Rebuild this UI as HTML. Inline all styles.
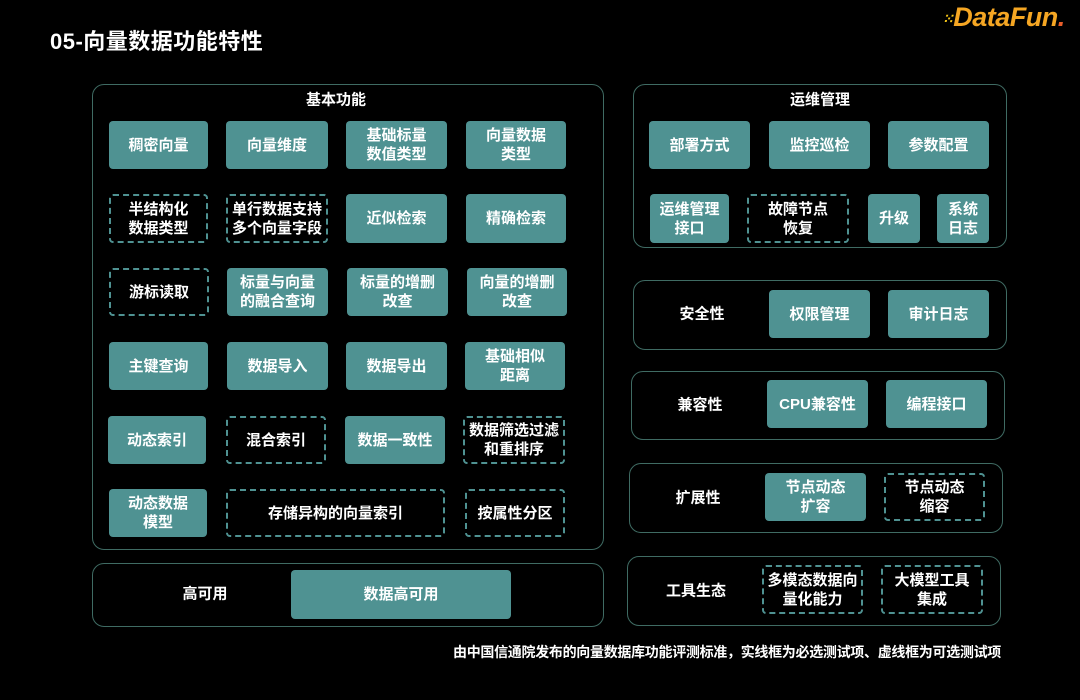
<!DOCTYPE html>
<html><head><meta charset="utf-8"><style>
*{margin:0;padding:0;box-sizing:border-box}
body{width:1080px;height:700px;background:#000;position:relative;overflow:hidden;font-family:"Liberation Sans","Noto Sans CJK SC",sans-serif;color:#fff}
.c{position:absolute;border:1.5px solid #3f6b63;border-radius:12px}
.b{position:absolute;background:#4f9292;border-radius:4px;display:flex;align-items:center;justify-content:center;text-align:center;font-size:15px;line-height:19px;color:#fff;font-weight:bold}
.d{position:absolute;border:2px dashed #4f9292;border-radius:4px;display:flex;align-items:center;justify-content:center;text-align:center;font-size:15px;line-height:19px;color:#fff;font-weight:bold}
.l{position:absolute;font-size:15px;color:#fff;transform:translate(-50%,-50%);white-space:nowrap;font-weight:bold}
</style></head><body>
<div style="position:absolute;left:50px;top:24px;font-size:22px;font-weight:bold;letter-spacing:0.5px">05-向量数据功能特性</div>
<div style="position:absolute;left:942px;top:2px;font-size:27px;font-weight:bold;font-style:italic;color:#f5a623;letter-spacing:-0.5px"><span style="color:#f5c518;font-size:14px;vertical-align:middle">⁙</span>DataFun<span style="color:#e85d2a">.</span></div>

<div class="c" style="left:92px;top:84px;width:512px;height:466px"></div>
<div class="l" style="left:336px;top:99px">基本功能</div>
<div class="b" style="left:109px;top:121px;width:99px;height:48px">稠密向量</div>
<div class="b" style="left:226px;top:121px;width:102px;height:48px">向量维度</div>
<div class="b" style="left:346px;top:121px;width:101px;height:48px">基础标量<br>数值类型</div>
<div class="b" style="left:466px;top:121px;width:100px;height:48px">向量数据<br>类型</div>
<div class="d" style="left:109px;top:194px;width:99px;height:49px">半结构化<br>数据类型</div>
<div class="d" style="left:226px;top:194px;width:102px;height:49px">单行数据支持<br>多个向量字段</div>
<div class="b" style="left:346px;top:194px;width:101px;height:49px">近似检索</div>
<div class="b" style="left:466px;top:194px;width:100px;height:49px">精确检索</div>
<div class="d" style="left:109px;top:268px;width:100px;height:48px">游标读取</div>
<div class="b" style="left:227px;top:268px;width:101px;height:48px">标量与向量<br>的融合查询</div>
<div class="b" style="left:347px;top:268px;width:101px;height:48px">标量的增删<br>改查</div>
<div class="b" style="left:467px;top:268px;width:100px;height:48px">向量的增删<br>改查</div>
<div class="b" style="left:109px;top:342px;width:99px;height:48px">主键查询</div>
<div class="b" style="left:227px;top:342px;width:101px;height:48px">数据导入</div>
<div class="b" style="left:346px;top:342px;width:101px;height:48px">数据导出</div>
<div class="b" style="left:465px;top:342px;width:100px;height:48px">基础相似<br>距离</div>
<div class="b" style="left:108px;top:416px;width:98px;height:48px">动态索引</div>
<div class="d" style="left:226px;top:416px;width:100px;height:48px">混合索引</div>
<div class="b" style="left:345px;top:416px;width:100px;height:48px">数据一致性</div>
<div class="d" style="left:463px;top:416px;width:102px;height:48px">数据筛选过滤<br>和重排序</div>
<div class="b" style="left:109px;top:489px;width:98px;height:48px">动态数据<br>模型</div>
<div class="d" style="left:226px;top:489px;width:219px;height:48px">存储异构的向量索引</div>
<div class="d" style="left:465px;top:489px;width:100px;height:48px">按属性分区</div>

<div class="c" style="left:92px;top:563px;width:512px;height:64px"></div>
<div class="l" style="left:205px;top:593px">高可用</div>
<div class="b" style="left:291px;top:570px;width:220px;height:49px">数据高可用</div>

<div class="c" style="left:633px;top:84px;width:374px;height:164px"></div>
<div class="l" style="left:820px;top:99px">运维管理</div>
<div class="b" style="left:649px;top:121px;width:101px;height:48px">部署方式</div>
<div class="b" style="left:769px;top:121px;width:101px;height:48px">监控巡检</div>
<div class="b" style="left:888px;top:121px;width:101px;height:48px">参数配置</div>
<div class="b" style="left:650px;top:194px;width:79px;height:49px">运维管理<br>接口</div>
<div class="d" style="left:747px;top:194px;width:102px;height:49px">故障节点<br>恢复</div>
<div class="b" style="left:868px;top:194px;width:52px;height:49px">升级</div>
<div class="b" style="left:937px;top:194px;width:52px;height:49px">系统<br>日志</div>

<div class="c" style="left:633px;top:280px;width:374px;height:70px"></div>
<div class="l" style="left:702px;top:313px">安全性</div>
<div class="b" style="left:769px;top:290px;width:101px;height:48px">权限管理</div>
<div class="b" style="left:888px;top:290px;width:101px;height:48px">审计日志</div>

<div class="c" style="left:631px;top:371px;width:374px;height:69px"></div>
<div class="l" style="left:700px;top:404px">兼容性</div>
<div class="b" style="left:767px;top:380px;width:101px;height:48px">CPU兼容性</div>
<div class="b" style="left:886px;top:380px;width:101px;height:48px">编程接口</div>

<div class="c" style="left:629px;top:463px;width:374px;height:70px"></div>
<div class="l" style="left:698px;top:497px">扩展性</div>
<div class="b" style="left:765px;top:473px;width:101px;height:48px">节点动态<br>扩容</div>
<div class="d" style="left:884px;top:473px;width:101px;height:48px">节点动态<br>缩容</div>

<div class="c" style="left:627px;top:556px;width:374px;height:70px"></div>
<div class="l" style="left:696px;top:590px">工具生态</div>
<div class="d" style="left:762px;top:565px;width:101px;height:49px">多模态数据向<br>量化能力</div>
<div class="d" style="left:881px;top:565px;width:102px;height:49px">大模型工具<br>集成</div>

<div style="position:absolute;left:421px;top:642px;width:580px;font-size:14px;font-weight:bold;text-align:right;white-space:nowrap;letter-spacing:-0.3px">由中国信通院发布的向量数据库功能评测标准，实线框为必选测试项、虚线框为可选测试项</div>
</body></html>
